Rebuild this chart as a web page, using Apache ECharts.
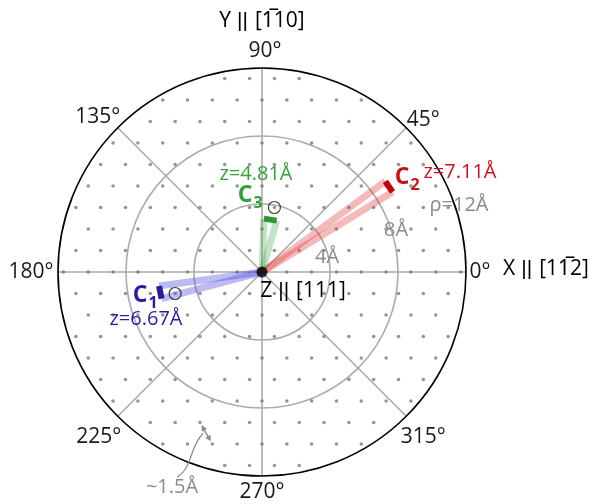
<!DOCTYPE html>
<html>
<head>
<meta charset="utf-8">
<script src="https://cdn.jsdelivr.net/npm/echarts@6/dist/echarts.min.js"></script>
<style>
  html, body { margin: 0; padding: 0; background: #fff; }
  #chart { width: 598px; height: 504px; }
</style>
</head>
<body>
<div id="chart"></div>
<script>
// Hexagonal surface lattice seen along Z || [111]
const latticeA = 1.46;          // nearest-neighbour spacing, Å
const rhoMax = 12;              // outer circle, Å
const ringTicks = [4, 8, 12];   // radial rings, Å
const angleTicks = [0, 45, 90, 135, 180, 225, 270, 315];

// Carbon positions: in-plane distance (Å), azimuth (deg), height z (Å)
const carbonNames = ['1', '2', '3'];
const carbonRho = [6.1, 9.0, 3.12];
const carbonPhi = [191.3, 33.9, 81.0];
const carbonZ = [6.67, 7.11, 4.81];
const carbonHalfWidth = 0.38;   // half-length of the end bar, Å

// Lattice sites marked with an open circle, lattice indices [i, j]
const markedSites = [[-3, -1], [-1, 3]];
// Neighbour pair used for the spacing arrow
const spacingPair = [[1, -7], [2, -8]];

const bandColors = ['rgba(70,70,215,0.36)', 'rgba(225,60,60,0.36)', 'rgba(70,165,70,0.32)'];
const barColors = ['#2a1aa0', '#c4000e', '#2f9632'];
const textColors = ['#2d1ca6', '#cc1020', '#34a038'];

function toPolar(x, y) {
  const r = Math.hypot(x, y);
  let a = Math.atan2(y, x) * 180 / Math.PI;
  if (a < 0) a += 360;
  return [r, a];
}
function latticeXY(i, j) {
  return [(i + j / 2) * latticeA, j * latticeA * Math.sqrt(3) / 2];
}

// lattice dots inside the outer ring
const latticeDots = [];
for (let j = -10; j <= 10; j++) {
  for (let i = -16; i <= 16; i++) {
    const p = latticeXY(i, j);
    if (Math.hypot(p[0], p[1]) <= rhoMax - 0.05) latticeDots.push(toPolar(p[0], p[1]));
  }
}

const series = [{
  type: 'scatter', coordinateSystem: 'polar', data: latticeDots,
  symbolSize: 3.6, itemStyle: { color: '#7a7a7a' }, silent: true, z: 2
}];

carbonNames.forEach((n, k) => {
  const phi = carbonPhi[k] * Math.PI / 180;
  const cx = carbonRho[k] * Math.cos(phi), cy = carbonRho[k] * Math.sin(phi);
  const px = -Math.sin(phi) * carbonHalfWidth, py = Math.cos(phi) * carbonHalfWidth;
  const e1 = toPolar(cx + px, cy + py), e2 = toPolar(cx - px, cy - py);
  [e1, e2].forEach(e => {
    series.push({
      type: 'line', coordinateSystem: 'polar', data: [[0, e[1]], e],
      symbol: 'none', clip: false, z: 3,
      lineStyle: { color: bandColors[k], width: 7, cap: 'butt' }
    });
  });
  series.push({
    type: 'line', coordinateSystem: 'polar', data: [e1, e2],
    symbol: 'none', clip: false, z: 4,
    lineStyle: { color: barColors[k], width: 6, cap: 'butt' }
  });
});

series.push({
  type: 'scatter', coordinateSystem: 'polar',
  data: markedSites.map(s => { const p = latticeXY(s[0], s[1]); return toPolar(p[0], p[1]); }),
  symbol: 'circle', symbolSize: 12, z: 5,
  itemStyle: { color: 'rgba(0,0,0,0)', borderColor: '#111', borderWidth: 1.2 }
});
series.push({
  type: 'scatter', coordinateSystem: 'polar', data: [[0, 0]],
  symbolSize: 11, itemStyle: { color: '#000' }, z: 6
});

const FONT = '"Open Sans", "Noto Sans", sans-serif';
const chart = echarts.init(document.getElementById('chart'), null, { renderer: 'canvas' });

const option = {
  animation: false,
  backgroundColor: '#fff',
  polar: { center: [262, 272], radius: 204 },
  angleAxis: {
    type: 'value', min: 0, max: 360, interval: 45,
    startAngle: 0, clockwise: false,
    axisLine: { lineStyle: { color: '#000', width: 1.6 } },
    axisTick: { show: false },
    splitLine: { show: true, lineStyle: { color: '#ababab', width: 1.6 } },
    axisLabel: { show: false }
  },
  radiusAxis: {
    type: 'value', min: 0, max: rhoMax, interval: ringTicks[0],
    axisLine: { show: false }, axisTick: { show: false }, axisLabel: { show: false },
    splitLine: { show: true, lineStyle: { color: ['rgba(0,0,0,0)', '#ababab', '#ababab', 'rgba(0,0,0,0)'], width: 1.6 } }
  },
  series: series
};
chart.setOption(option);

function txt(x, y, text, color, size, weight) {
  return {
    type: 'text', x: x, y: y, z: 10,
    style: {
      text: text, fill: color, font: (weight || 'normal') + ' ' + size + 'px ' + FONT,
      align: 'center', verticalAlign: 'middle'
    }
  };
}
// axis title with a tight double bar
function axisTitle(x, y, head, tail) {
  return {
    type: 'text', x: x, y: y, z: 10,
    style: {
      text: '{a|' + head + '}{b|||}{a|' + tail + '}',
      align: 'center', verticalAlign: 'middle',
      rich: {
        a: { fontSize: 21, fontFamily: FONT, color: '#1a1a1a' },
        b: { fontSize: 21, fontFamily: '"Liberation Sans"', color: '#1a1a1a', padding: [0, 7, 0, 6] }
      }
    }
  };
}

const toPx = (r, deg) => chart.convertToPixel({ seriesIndex: 0 }, [r, deg]);
const gray = '#8a8a8a';

// angle labels, offset outward from the outer ring (px)
const labelOffset = { 0: [14, 0], 45: [17, -8], 90: [3, -17], 135: [-20, -11], 180: [-27, 0], 225: [-19, 21], 270: [0, 16], 315: [17, 21] };
const graphics = angleTicks.map(a => {
  const p = toPx(rhoMax, a);
  const o = labelOffset[a];
  return txt(p[0] + o[0], p[1] + o[1], a + '°', '#1a1a1a', 21);
});

graphics.push(
  axisTitle(262, 21, 'Y', '[1\u030510]'),
  axisTitle(546, 269, 'X', '[11\u03052]'),
  axisTitle(303, 291, 'Z', '[111]'),
  txt(327, 257, '4Å', gray, 20),
  txt(396, 230, '8Å', gray, 20),
  txt(459, 205, 'ρ=12Å', gray, 20),
  txt(172, 487, '~1.5Å', gray, 20),
  // C1
  txt(140, 295, 'C', textColors[0], 23, 'bold'),
  txt(153, 303, carbonNames[0], textColors[0], 16, 'bold'),
  txt(146, 319, 'z=' + carbonZ[0].toFixed(2) + 'Å', textColors[0], 20),
  // C2
  txt(402, 177, 'C', textColors[1], 23, 'bold'),
  txt(415, 185, carbonNames[1], textColors[1], 16, 'bold'),
  txt(460, 172, 'z=' + carbonZ[1].toFixed(2) + 'Å', textColors[1], 20),
  // C3
  txt(245, 195, 'C', textColors[2], 23, 'bold'),
  txt(258, 203, carbonNames[2], textColors[2], 16, 'bold'),
  txt(256, 174, 'z=' + carbonZ[2].toFixed(2) + 'Å', textColors[2], 20)
);

// spacing arrow between two neighbouring lattice sites
const pa = latticeXY(spacingPair[0][0], spacingPair[0][1]);
const pb = latticeXY(spacingPair[1][0], spacingPair[1][1]);
const A = chart.convertToPixel({ seriesIndex: 0 }, toPolar(pa[0], pa[1]));
const B = chart.convertToPixel({ seriesIndex: 0 }, toPolar(pb[0], pb[1]));
const dx = B[0] - A[0], dy = B[1] - A[1], L = Math.hypot(dx, dy);
const ux = dx / L, uy = dy / L;
const a0 = [A[0] + ux * 3, A[1] + uy * 3], b0 = [B[0] - ux * 3, B[1] - uy * 3];
function head(tip, dirx, diry) {
  const s = 6, w = 3;
  return {
    type: 'polygon', z: 10,
    shape: { points: [tip, [tip[0] - dirx * s - diry * w, tip[1] - diry * s + dirx * w], [tip[0] - dirx * s + diry * w, tip[1] - diry * s - dirx * w]] },
    style: { fill: '#8a8a8a' }
  };
}
graphics.push({
  type: 'line', z: 10,
  shape: { x1: a0[0] + ux * 4, y1: a0[1] + uy * 4, x2: b0[0] - ux * 4, y2: b0[1] - uy * 4 },
  style: { stroke: '#8a8a8a', lineWidth: 1.4 }
});
graphics.push(head(a0, -ux, -uy));
graphics.push(head(b0, ux, uy));
const mid = [(A[0] + B[0]) / 2 - 3, (A[1] + B[1]) / 2];
graphics.push({
  type: 'bezierCurve', z: 10,
  shape: { x1: 177, y1: 477, cpx1: 193, cpy1: 468, cpx2: 189, cpy2: 447, x2: mid[0], y2: mid[1] },
  style: { stroke: '#8a8a8a', lineWidth: 1.2, fill: 'none' }
});

chart.setOption({ graphic: graphics });
</script>
</body>
</html>
